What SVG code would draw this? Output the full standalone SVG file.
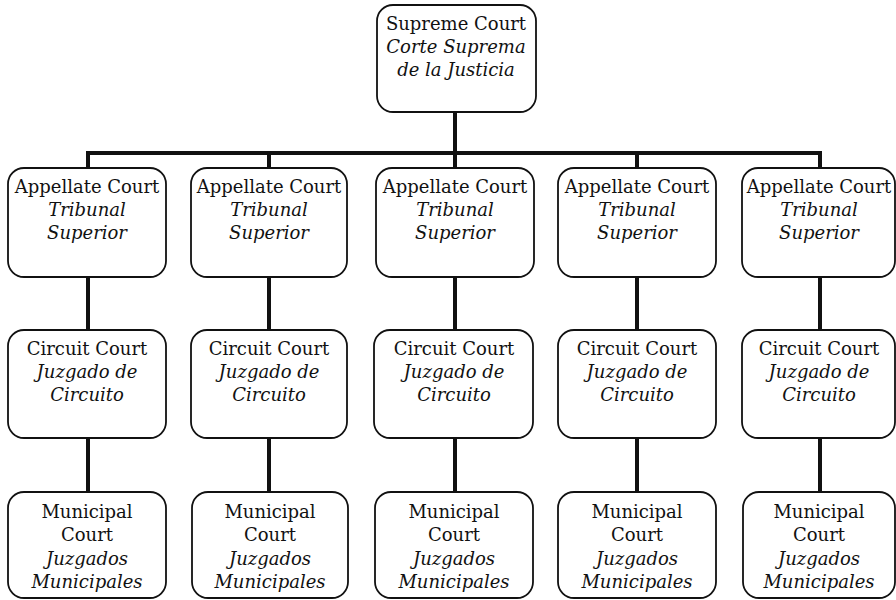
<svg xmlns="http://www.w3.org/2000/svg" width="896" height="600" viewBox="0 0 896 600">
<style>
.box{fill:#fff;stroke:#111;stroke-width:1.8}
.t{font-family:"DejaVu Serif","Liberation Serif",serif;font-size:18px;fill:#111;text-anchor:middle}
.i{font-style:italic}
.c{stroke:#111;stroke-width:4;fill:none}
</style>
<rect width="896" height="600" fill="#fff"/>
<g id="connectors">
<line class="c" x1="455" y1="112" x2="455" y2="153"/>
<line class="c" x1="86" y1="153" x2="822" y2="153"/>
<line class="c" x1="88" y1="153" x2="88" y2="168"/>
<line class="c" x1="269" y1="153" x2="269" y2="168"/>
<line class="c" x1="455" y1="153" x2="455" y2="168"/>
<line class="c" x1="637" y1="153" x2="637" y2="168"/>
<line class="c" x1="820" y1="153" x2="820" y2="168"/>
<line class="c" x1="88" y1="277" x2="88" y2="330"/>
<line class="c" x1="269" y1="277" x2="269" y2="330"/>
<line class="c" x1="455" y1="277" x2="455" y2="330"/>
<line class="c" x1="637" y1="277" x2="637" y2="330"/>
<line class="c" x1="820" y1="277" x2="820" y2="330"/>
<line class="c" x1="88" y1="438" x2="88" y2="492"/>
<line class="c" x1="269" y1="438" x2="269" y2="492"/>
<line class="c" x1="455" y1="438" x2="455" y2="492"/>
<line class="c" x1="637" y1="438" x2="637" y2="492"/>
<line class="c" x1="820" y1="438" x2="820" y2="492"/>
</g>
<g id="supreme">
<rect class="box" x="377" y="5" width="159" height="107" rx="16"/>
<text class="t" x="456" y="30">Supreme Court</text>
<text class="t i" x="456" y="53">Corte Suprema</text>
<text class="t i" x="456" y="76">de la Justicia</text>
</g>
<g id="appellate1">
<rect class="box" x="8" y="168" width="158" height="109" rx="16"/>
<text class="t" x="87" y="193">Appellate Court</text>
<text class="t i" x="87" y="216">Tribunal</text>
<text class="t i" x="87" y="239">Superior</text>
</g>
<g id="appellate2">
<rect class="box" x="191" y="168" width="156" height="109" rx="16"/>
<text class="t" x="269" y="193">Appellate Court</text>
<text class="t i" x="269" y="216">Tribunal</text>
<text class="t i" x="269" y="239">Superior</text>
</g>
<g id="appellate3">
<rect class="box" x="376" y="168" width="158" height="109" rx="16"/>
<text class="t" x="455" y="193">Appellate Court</text>
<text class="t i" x="455" y="216">Tribunal</text>
<text class="t i" x="455" y="239">Superior</text>
</g>
<g id="appellate4">
<rect class="box" x="558" y="168" width="158" height="109" rx="16"/>
<text class="t" x="637" y="193">Appellate Court</text>
<text class="t i" x="637" y="216">Tribunal</text>
<text class="t i" x="637" y="239">Superior</text>
</g>
<g id="appellate5">
<rect class="box" x="742" y="168" width="153" height="109" rx="16"/>
<text class="t" x="819" y="193">Appellate Court</text>
<text class="t i" x="819" y="216">Tribunal</text>
<text class="t i" x="819" y="239">Superior</text>
</g>
<g id="circuit1">
<rect class="box" x="8" y="330" width="158" height="108" rx="16"/>
<text class="t" x="87" y="355">Circuit Court</text>
<text class="t i" x="87" y="378">Juzgado de</text>
<text class="t i" x="87" y="401">Circuito</text>
</g>
<g id="circuit2">
<rect class="box" x="191" y="330" width="156" height="108" rx="16"/>
<text class="t" x="269" y="355">Circuit Court</text>
<text class="t i" x="269" y="378">Juzgado de</text>
<text class="t i" x="269" y="401">Circuito</text>
</g>
<g id="circuit3">
<rect class="box" x="374" y="330" width="159" height="108" rx="16"/>
<text class="t" x="454" y="355">Circuit Court</text>
<text class="t i" x="454" y="378">Juzgado de</text>
<text class="t i" x="454" y="401">Circuito</text>
</g>
<g id="circuit4">
<rect class="box" x="558" y="330" width="158" height="108" rx="16"/>
<text class="t" x="637" y="355">Circuit Court</text>
<text class="t i" x="637" y="378">Juzgado de</text>
<text class="t i" x="637" y="401">Circuito</text>
</g>
<g id="circuit5">
<rect class="box" x="742" y="330" width="153" height="108" rx="16"/>
<text class="t" x="819" y="355">Circuit Court</text>
<text class="t i" x="819" y="378">Juzgado de</text>
<text class="t i" x="819" y="401">Circuito</text>
</g>
<g id="municipal1">
<rect class="box" x="8" y="492" width="158" height="106" rx="16"/>
<text class="t" x="87" y="518">Municipal</text>
<text class="t" x="87" y="541">Court</text>
<text class="t i" x="87" y="565">Juzgados</text>
<text class="t i" x="87" y="588">Municipales</text>
</g>
<g id="municipal2">
<rect class="box" x="192" y="492" width="156" height="106" rx="16"/>
<text class="t" x="270" y="518">Municipal</text>
<text class="t" x="270" y="541">Court</text>
<text class="t i" x="270" y="565">Juzgados</text>
<text class="t i" x="270" y="588">Municipales</text>
</g>
<g id="municipal3">
<rect class="box" x="375" y="492" width="158" height="106" rx="16"/>
<text class="t" x="454" y="518">Municipal</text>
<text class="t" x="454" y="541">Court</text>
<text class="t i" x="454" y="565">Juzgados</text>
<text class="t i" x="454" y="588">Municipales</text>
</g>
<g id="municipal4">
<rect class="box" x="558" y="492" width="158" height="106" rx="16"/>
<text class="t" x="637" y="518">Municipal</text>
<text class="t" x="637" y="541">Court</text>
<text class="t i" x="637" y="565">Juzgados</text>
<text class="t i" x="637" y="588">Municipales</text>
</g>
<g id="municipal5">
<rect class="box" x="743" y="492" width="152" height="106" rx="16"/>
<text class="t" x="819" y="518">Municipal</text>
<text class="t" x="819" y="541">Court</text>
<text class="t i" x="819" y="565">Juzgados</text>
<text class="t i" x="819" y="588">Municipales</text>
</g>
</svg>
